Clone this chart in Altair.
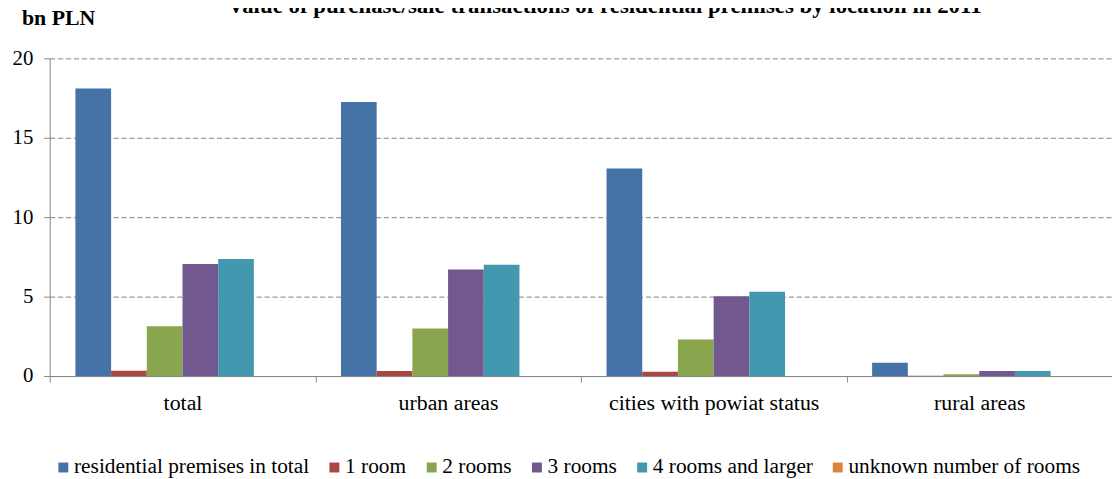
import altair as alt
import pandas as pd

categories = ["total", "urban areas", "cities with powiat status", "rural areas"]
series = ["residential premises in total", "1 room", "2 rooms", "3 rooms",
          "4 rooms and larger", "unknown number of rooms"]
colors = ["#4572A7", "#AA4643", "#89A54E", "#71588F", "#4198AF", "#DB843D"]

residential_total = [18.1, 17.25, 13.07, 0.83]
one_room = [0.33, 0.32, 0.27, 0.02]
two_rooms = [3.14, 3.0, 2.3, 0.12]
three_rooms = [7.05, 6.7, 5.02, 0.31]
four_rooms = [7.37, 7.0, 5.3, 0.31]
unknown_rooms = [0.01, 0.01, 0.01, 0.0]

title_text = "Value of purchase/sale transactions of residential premises by location in 2011"
unit_text = "bn PLN"
y_ticks = [0, 5, 10, 15, 20]

values_by_series = [residential_total, one_room, two_rooms, three_rooms, four_rooms, unknown_rooms]
rows = []
for s, vals in zip(series, values_by_series):
    for c, v in zip(categories, vals):
        rows.append({"category": c, "series": s, "value": v})
df = pd.DataFrame(rows)

FONT = "Liberation Serif"

bars = alt.Chart(df).mark_bar().encode(
    x=alt.X("category:N", sort=categories,
            scale=alt.Scale(paddingInner=0, paddingOuter=0),
            axis=alt.Axis(title=None, labelAngle=0, tickBand="extent",
                          domainColor="#868686", tickColor="#868686",
                          tickSize=6, labelPadding=11, labelFont=FONT,
                          labelFontSize=22, labelColor="#000000", grid=False,
                          labelLimit=400)),
    xOffset=alt.XOffset("series:N", sort=series,
                        scale=alt.Scale(paddingInner=0, paddingOuter=0.72)),
    y=alt.Y("value:Q", scale=alt.Scale(domain=[0, 20], nice=False),
            axis=alt.Axis(title=None, values=y_ticks, domainColor="#868686",
                          tickColor="#868686", tickSize=6, labelPadding=11,
                          labelFont=FONT, labelFontSize=21, labelColor="#000000",
                          gridColor="#808080", gridDash=[5, 3], gridWidth=1)),
    color=alt.Color("series:N", sort=series,
                    scale=alt.Scale(domain=series, range=colors),
                    legend=alt.Legend(title=None, orient="none", direction="horizontal",
                                      legendX=3, legendY=401, symbolType="square",
                                      symbolSize=100, symbolStrokeWidth=0,
                                      labelFont=FONT, labelFontSize=21.5,
                                      labelColor="#000000", labelLimit=500,
                                      labelOffset=0, columnPadding=14,
                                      columns=6, padding=0)),
)

title_layer = alt.Chart(pd.DataFrame({"t": [title_text]})).mark_text(
    font=FONT, fontSize=23, fontWeight="bold", align="center", baseline="alphabetic",
    color="#000000"
).encode(x=alt.value(559), y=alt.value(-46), text="t:N")

unit_layer = alt.Chart(pd.DataFrame({"t": [unit_text]})).mark_text(
    font=FONT, fontSize=22, fontWeight="bold", align="left", baseline="alphabetic",
    color="#000000"
).encode(x=alt.value(-28), y=alt.value(-34), text="t:N")

chart = alt.layer(bars, title_layer, unit_layer).properties(
    width=1070, height=320,
    autosize=alt.AutoSizeParams(type="none"),
    padding={"left": 42, "top": 49, "right": 0, "bottom": 102},
    background="#ffffff",
).configure_view(stroke=None)

chart.save("out.html", embed_options={"renderer": "svg", "actions": False})
